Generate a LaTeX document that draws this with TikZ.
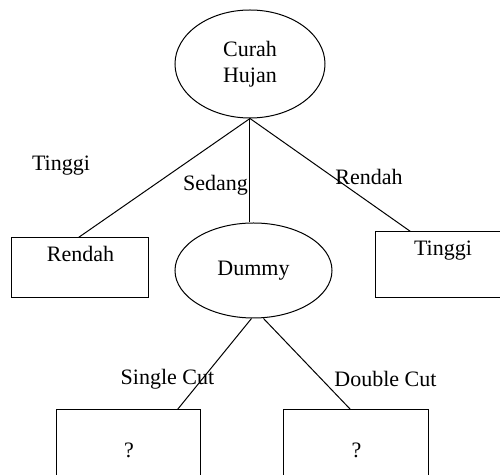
\documentclass[tikz,border=0pt]{standalone}
\usepackage{fontspec}
\setmainfont{Liberation Serif}
\usetikzlibrary{shapes.geometric}

\begin{document}
\begin{tikzpicture}[x=0.5pt,y=-0.5pt,line width=0.5pt,
	every node/.style={font=\fontsize{11}{13}\selectfont},
	oval/.style={draw,ellipse,inner sep=0pt},
	box/.style={draw,rectangle,inner sep=0pt}]
				%%%%% START %%%%%
				\def\picw{500}
				\def\pich{475}
				\def\ytop{11.6pt}
				
				\clip (0,0) rectangle (\picw,\pich);
				
				\node[oval,minimum width=75pt,minimum height=54pt,align=center] (curah) at (250,64) {Curah\\Hujan};
				\node[oval,minimum width=78.5pt,minimum height=47.5pt] (dummy) at (253.5,270.5) {Dummy};
				
				\node[box,minimum width=68.5pt,text height=\ytop,text depth=18.4pt] (rendah) at (80.5,268) {Rendah};
				\node[box,minimum width=67pt,text height=\ytop,text depth=21.4pt] (tinggi) at (443,265) {Tinggi};
				
				\node[box,minimum width=72pt,minimum height=40pt] (single) at (129,450) {?};
				\node[box,minimum width=72.5pt,minimum height=40pt] (double) at (356.5,450) {?};
				
				\draw (curah.south) -- ([xshift=-1pt]rendah.north);
				\draw (curah.south) -- (curah.south |- dummy.north);
				\draw (curah.south) -- ([xshift=17.5pt]tinggi.north west);
				
				\draw ([xshift=-1pt]dummy.south) -- ([xshift=-12pt]single.north east);
				\draw ([xshift=5pt]dummy.south) -- ([xshift=-3pt]double.north);
				
				\node (lbltinggi) at (61,166) {Tinggi};
				\node (lblsedang) at (215.5,185) {Sedang};
				\node (lblrendah) at (369,177) {Rendah};
				\node (lblsingle) at (167.5,379) {Single Cut};
				\node (lbldouble) at (385.5,379) {Double Cut};
				%%%%% END %%%%%
\end{tikzpicture}
\end{document}
